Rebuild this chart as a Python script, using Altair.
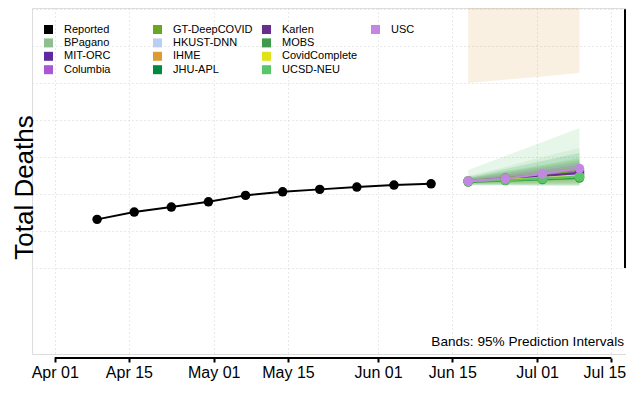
import altair as alt
import pandas as pd

# ---------------- data ----------------
reported_dates = ["2020-04-09", "2020-04-16", "2020-04-23", "2020-04-30", "2020-05-07",
                  "2020-05-14", "2020-05-21", "2020-05-28", "2020-06-04", "2020-06-11"]
reported_values = [26350, 30300, 33000, 35870, 39330, 41280, 42580, 43820, 44900, 45610]

forecast_dates = ["2020-06-18", "2020-06-25", "2020-07-02", "2020-07-09"]

model_names = ["BPagano", "MIT-ORC", "Columbia", "GT-DeepCOVID", "HKUST-DNN", "IHME",
               "JHU-APL", "Karlen", "MOBS", "CovidComplete", "UCSD-NEU", "USC"]

model_colors = {
    "Reported": "#000000", "BPagano": "#8FBF8F", "MIT-ORC": "#5E2A9E", "Columbia": "#A957D6",
    "GT-DeepCOVID": "#6BA524", "HKUST-DNN": "#B8CFF2", "IHME": "#DD9C33", "JHU-APL": "#008A3E",
    "Karlen": "#6A2D8F", "MOBS": "#3F9A4B", "CovidComplete": "#E1E11C", "UCSD-NEU": "#57C769",
    "USC": "#C287E3",
}

point_forecast = {
    "BPagano":       [47070, 47880, 48690, 49770],
    "MIT-ORC":       [47070, 48150, 49230, 50580],
    "Columbia":      [47070, 48420, 50040, 52200],
    "GT-DeepCOVID":  [47070, 48690, 50580, 52750],
    "HKUST-DNN":     [47070, 48150, 49230, 50310],
    "IHME":          [175000, 190000, 205000, 220000],
    "JHU-APL":       [46800, 47610, 48420, 48960],
    "Karlen":        [47070, 48150, 49770, 51400],
    "MOBS":          [46530, 47340, 47880, 48690],
    "CovidComplete": [47070, 47880, 48690, 49500],
    "UCSD-NEU":      [47070, 47610, 48420, 49500],
    "USC":           [47070, 48420, 50850, 53830],
}

lower_95 = {
    "BPagano":       [45440, 45440, 45710, 45990],
    "MIT-ORC":       [46530, 46800, 47340, 48150],
    "Columbia":      [45990, 46530, 47070, 47610],
    "GT-DeepCOVID":  [45710, 45990, 46260, 46800],
    "HKUST-DNN":     [46260, 46260, 46260, 46260],
    "IHME":          [100100, 101900, 103700, 105500],
    "JHU-APL":       [45170, 45170, 45170, 45170],
    "Karlen":        [45990, 46530, 47340, 48150],
    "MOBS":          [44630, 44630, 44360, 44360],
    "CovidComplete": [45990, 45710, 45440, 45440],
    "UCSD-NEU":      [44900, 44900, 44900, 44900],
    "USC":           [45990, 46800, 48150, 49500],
}

upper_95 = {
    "BPagano":       [49770, 54640, 60050, 64920],
    "MIT-ORC":       [47610, 49770, 52200, 54640],
    "Columbia":      [48420, 51400, 54370, 57350],
    "GT-DeepCOVID":  [48690, 52480, 55720, 59510],
    "HKUST-DNN":     [47880, 50310, 53020, 55720],
    "IHME":          [300000, 340000, 380000, 420000],
    "JHU-APL":       [49230, 53560, 57890, 62220],
    "Karlen":        [48150, 50310, 53020, 55720],
    "MOBS":          [48690, 51940, 55180, 58430],
    "CovidComplete": [47880, 50040, 52480, 55180],
    "UCSD-NEU":      [53020, 60590, 68170, 75740],
    "USC":           [48150, 50850, 54100, 56810],
}

legend_columns = [
    ["Reported", "BPagano", "MIT-ORC", "Columbia"],
    ["GT-DeepCOVID", "HKUST-DNN", "IHME", "JHU-APL"],
    ["Karlen", "MOBS", "CovidComplete", "UCSD-NEU"],
    ["USC"],
]

x_tick_dates = ["2020-04-01", "2020-04-15", "2020-05-01", "2020-05-15",
                "2020-06-01", "2020-06-15", "2020-07-01", "2020-07-15"]
y_tick_values = [0, 20000, 40000, 60000, 80000, 100000, 120000, 140000]
note_text = "Bands: 95% Prediction Intervals"
note_value = -40000

# ---------------- tables ----------------
rows = []
for d, v in zip(reported_dates, reported_values):
    rows.append({"model": "Reported", "date": d, "value": v})
for m in model_names:
    for d, v in zip(forecast_dates, point_forecast[m]):
        rows.append({"model": m, "date": d, "value": v})
lines_df = pd.DataFrame(rows)
lines_df["date"] = pd.to_datetime(lines_df["date"])

brows = []
for m in model_names:
    for d, lo, hi in zip(forecast_dates, lower_95[m], upper_95[m]):
        brows.append({"model": m, "date": d, "lower": lo, "upper": hi})
bands_df = pd.DataFrame(brows)
bands_df["date"] = pd.to_datetime(bands_df["date"])

W, H = 594, 346
FONT = "Liberation Sans"
GRID = "#d3d3d3"

def dt(s, hours=0, minutes=0):
    t = pd.Timestamp(s)
    return alt.DateTime(year=t.year, month=t.month, date=t.day, hours=hours, minutes=minutes)

x_scale = alt.Scale(domain=[dt("2020-03-27", 17, 14), dt("2020-07-17", 18, 26)])
y_scale = alt.Scale(domain=[-46483, 140703], nice=False, zero=False)

x_axis = alt.Axis(values=[dt(s) for s in x_tick_dates], format="%b %d", title=None,
                  labelFont=FONT, labelFontSize=16, labelColor="black", labelFlush=False,
                  labelOverlap=False, labelPadding=2, labelBound=False,
                  labelOffset={"condition": {"test": "datum.label == 'Jul 15'", "value": -7}, "value": 0},
                  domain=False, ticks=True,
                  tickColor="black", tickWidth=2, tickSize=4, offset=4,
                  grid=True, gridColor=GRID, gridDash=[1, 3], gridWidth=1)
y_axis = alt.Axis(orient="left", values=y_tick_values, labels=False, ticks=False, domain=False,
                  grid=True, gridColor=GRID, gridDash=[1, 3], gridWidth=1,
                  title="Total Deaths", titleFont=FONT, titleFontSize=26, titleFontWeight="normal",
                  titleColor="black", titleX=-8, titleY=179, titleAngle=270,
                  titleAlign="center", titleBaseline="middle")

def X(field):
    return alt.X(field, type="temporal", scale=x_scale, axis=x_axis)

def Y(field):
    return alt.Y(field, type="quantitative", scale=y_scale, axis=y_axis)

all_domain = ["Reported"] + model_names
all_scale = alt.Scale(domain=all_domain, range=[model_colors[m] for m in all_domain])

bands = alt.Chart(bands_df).mark_area(opacity=0.15, clip=True).encode(
    x=X("date"), y=Y("lower"), y2="upper",
    color=alt.Color("model:N", scale=all_scale, legend=None),
)

lines = alt.Chart(lines_df).mark_line(strokeWidth=2, clip=True).encode(
    x=X("date"), y=Y("value"),
    color=alt.Color("model:N", scale=all_scale, legend=None),
)

legend_x = [11, 120, 229, 338]
point_layers = []
for i, names in enumerate(legend_columns):
    sub = lines_df[lines_df["model"].isin(names)]
    leg = alt.Legend(orient="none", legendX=legend_x[i], legendY=16, title=None,
                     symbolType="square", symbolSize=81, symbolStrokeWidth=0, symbolOpacity=1,
                     labelFont=FONT, labelFontSize=11, labelColor="black", labelOffset=10,
                     rowPadding=1.4, direction="vertical", padding=0)
    point_layers.append(
        alt.Chart(sub).mark_circle(size=90, opacity=1, clip=True).encode(
            x=X("date"), y=Y("value"),
            fill=alt.Fill("model:N", scale=alt.Scale(domain=names, range=[model_colors[m] for m in names]),
                          legend=leg),
        )
    )

x_rule_df = pd.DataFrame({"start": [pd.Timestamp(x_tick_dates[0])], "end": [pd.Timestamp(x_tick_dates[-1])]})
x_rule = alt.Chart(x_rule_df).mark_rule(color="black", strokeWidth=2).encode(
    x=alt.X("start:T", scale=x_scale, axis=x_axis), x2="end:T", y=alt.value(H + 4)
)

y_rule_df = pd.DataFrame({"lo": [y_tick_values[0]], "hi": [y_tick_values[-1]]})
y_rule = alt.Chart(y_rule_df).mark_rule(color="black", strokeWidth=2).encode(
    x=alt.value(W - 1), y=Y("lo"), y2="hi"
)

note_df = pd.DataFrame({"value": [note_value], "label": [note_text]})
note = alt.Chart(note_df).mark_text(align="right", baseline="middle", font=FONT, fontSize=13.6,
                                    color="black").encode(
    x=alt.value(W - 2), y=Y("value"), text="label:N"
)

chart = alt.layer(bands, lines, *point_layers, x_rule, y_rule, note).resolve_scale(
    fill="independent"
).properties(
    width=W, height=H,
    autosize=alt.AutoSizeParams(type="none"),
    padding={"left": 24, "top": 0, "right": 0, "bottom": 28},
).configure_view(stroke=None).configure(background="white")

chart.save("out.html", embed_options={"renderer": "svg", "actions": False})
